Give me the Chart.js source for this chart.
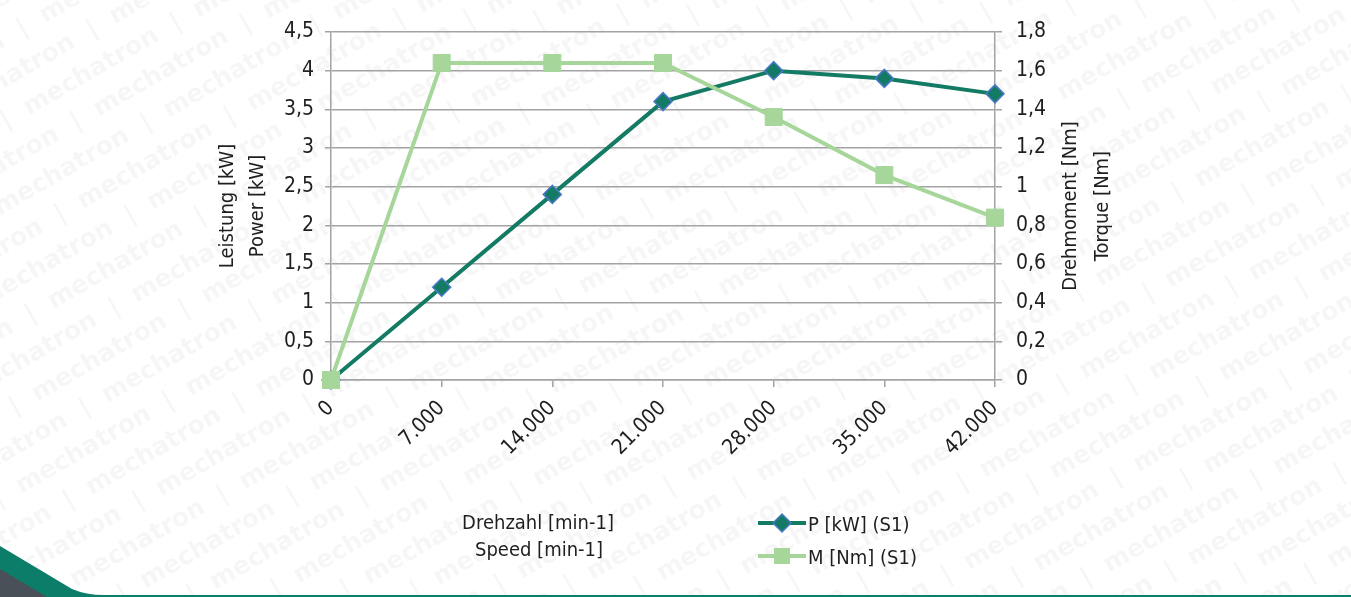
<!DOCTYPE html>
<html>
<head>
<meta charset="utf-8">
<script src="https://cdn.jsdelivr.net/npm/chart.js@4/dist/chart.umd.min.js"></script>
<style>
	html, body { margin: 0; padding: 0; background: #fff; }
	#wrap { position: relative; width: 1351px; height: 597px; overflow: hidden; }
	#chart { position: absolute; left: 0; top: 0; }
	#deco { position: absolute; left: 0; top: 0; }
</style>
</head>
<body>
<div id="wrap">
	<canvas id="chart" width="1351" height="597"></canvas>
	<svg id="deco" width="1351" height="597">
		<path d="M0,546 L72,589 Q86,595 104,595 L1351,595 L1351,597 L0,597 Z" fill="#0b7d69"></path>
		<path d="M0,569 L47,597 L0,597 Z" fill="#4a5057"></path>
	</svg>
</div>
<script>
// chart data
const speedLabels = ["0", "7.000", "14.000", "21.000", "28.000", "35.000", "42.000"];
const powerKW = [0, 1.2, 2.4, 3.6, 4.0, 3.9, 3.7];
const torqueNm = [0, 1.64, 1.64, 1.64, 1.36, 1.06, 0.84];

const powerTitle = ["Leistung [kW]", "Power [kW]"];
const torqueTitle = ["Drehmoment [Nm]", "Torque [Nm]"];
const speedTitle = ["Drehzahl [min-1]", "Speed [min-1]"];
const legendLabels = ["P [kW] (S1)", "M [Nm] (S1)"];

const FONT = "'DejaVu Sans Condensed', 'Liberation Sans', sans-serif";
const TEXT = "#1e1e1e";
const GRID = "#a3a3a3";
const DARK = "#137a63";
const LIGHT = "#a6d69a";
const EDGE = "#4a78c8";

const commaFormat = (v) => String(Number(v.toFixed(1))).replace(".", ",");

// faint repeated watermark behind everything
const watermark = {
	id: "watermark",
	beforeDraw(chart) {
		const ctx = chart.ctx;
		ctx.save();
		ctx.fillStyle = "rgba(0,0,0,0.035)";
		ctx.font = "bold 25px 'DejaVu Sans', sans-serif";
		ctx.textBaseline = "middle";
		const row = "mechatron  |  mechatron  |  mechatron  |  mechatron  |  mechatron  |  mechatron  |  mechatron  |  mechatron  |  mechatron  |  mechatron  |  ";
		ctx.rotate(-Math.PI / 6);
		for (let i = -10; i < 36; i++) {
			const off = (i % 3) * 60;
			ctx.fillText(row, -620 + off, i * 36);
		}
		ctx.restore();
	}
};

// axis titles and legend drawn by hand
const annotations = {
	id: "annotations",
	afterDraw(chart) {
		const ctx = chart.ctx;
		const area = chart.chartArea;
		const midY = (area.top + area.bottom) / 2;
		ctx.save();
		ctx.fillStyle = TEXT;
		ctx.font = "20px " + FONT;
		ctx.textAlign = "center";
		ctx.textBaseline = "middle";

		[[powerTitle[0], 228], [powerTitle[1], 258], [torqueTitle[0], 1071], [torqueTitle[1], 1103]].forEach(([t, x]) => {
			ctx.save();
			ctx.translate(x, midY);
			ctx.rotate(-Math.PI / 2);
			ctx.fillText(t, 0, 0);
			ctx.restore();
		});

		ctx.textBaseline = "alphabetic";
		ctx.fillText(speedTitle[0], 538, 529);
		ctx.fillText(speedTitle[1], 539, 556);

		// legend
		ctx.textAlign = "left";
		const rows = [
			{ label: legendLabels[0], y: 523, color: DARK, style: "diamond" },
			{ label: legendLabels[1], y: 556, color: LIGHT, style: "square" }
		];
		rows.forEach((r) => {
			ctx.strokeStyle = r.color;
			ctx.lineWidth = 4;
			ctx.beginPath();
			ctx.moveTo(758, r.y);
			ctx.lineTo(806, r.y);
			ctx.stroke();
			ctx.fillStyle = r.color;
			ctx.beginPath();
			if (r.style === "diamond") {
				ctx.moveTo(782 - 9, r.y);
				ctx.lineTo(782, r.y - 9);
				ctx.lineTo(782 + 9, r.y);
				ctx.lineTo(782, r.y + 9);
				ctx.closePath();
				ctx.fill();
				ctx.strokeStyle = EDGE;
				ctx.lineWidth = 1.5;
				ctx.stroke();
			} else {
				ctx.rect(782 - 8, r.y - 8, 16, 16);
				ctx.fill();
			}
			ctx.fillStyle = TEXT;
			ctx.fillText(r.label, 808, r.y + 8);
		});
		ctx.restore();
	}
};

new Chart(document.getElementById("chart"), {
	type: "line",
	data: {
		labels: speedLabels,
		datasets: [
			{
				label: legendLabels[0],
				data: powerKW,
				yAxisID: "y",
				borderColor: DARK,
				backgroundColor: DARK,
				borderWidth: 4,
				tension: 0,
				pointStyle: "rectRot",
				pointRadius: 9,
				pointBorderColor: EDGE,
				pointBorderWidth: 1.5,
				pointBackgroundColor: DARK,
				clip: false,
				order: 1
			},
			{
				label: legendLabels[1],
				data: torqueNm,
				yAxisID: "y1",
				borderColor: LIGHT,
				backgroundColor: LIGHT,
				borderWidth: 4,
				tension: 0,
				pointStyle: "rect",
				pointRadius: 12,
				pointBorderColor: LIGHT,
				pointBorderWidth: 1,
				pointBackgroundColor: LIGHT,
				clip: false,
				order: 0
			}
		]
	},
	options: {
		responsive: false,
		animation: false,
		layout: { padding: { left: 200, right: 230, top: 32, bottom: 0 } },
		plugins: { legend: { display: false }, tooltip: { enabled: false } },
		scales: {
			x: {
				offset: false,
				grid: { drawOnChartArea: false, drawTicks: true, tickLength: 7, color: GRID, lineWidth: 1.5 },
				border: { color: GRID, width: 1.5 },
				ticks: { color: TEXT, font: { family: FONT, size: 21 }, minRotation: 45, maxRotation: 45, padding: 9, autoSkip: false },
				afterFit: (scale) => { scale.height = 217; }
			},
			y: {
				position: "left",
				min: 0,
				max: 4.5,
				grid: { color: GRID, lineWidth: 1.5, tickLength: 6 },
				border: { color: GRID, width: 1.5 },
				ticks: { stepSize: 0.5, color: TEXT, font: { family: FONT, size: 21 }, padding: 11, callback: commaFormat },
				afterFit: (scale) => { scale.width = 131; }
			},
			y1: {
				position: "right",
				min: 0,
				max: 1.8,
				grid: { drawOnChartArea: false, color: GRID, lineWidth: 1.5, tickLength: 7 },
				border: { color: GRID, width: 1.5 },
				ticks: { stepSize: 0.2, color: TEXT, font: { family: FONT, size: 21 }, padding: 14, callback: commaFormat },
				afterFit: (scale) => { scale.width = 126; }
			}
		}
	},
	plugins: [watermark, annotations]
});
</script>
</body>
</html>
